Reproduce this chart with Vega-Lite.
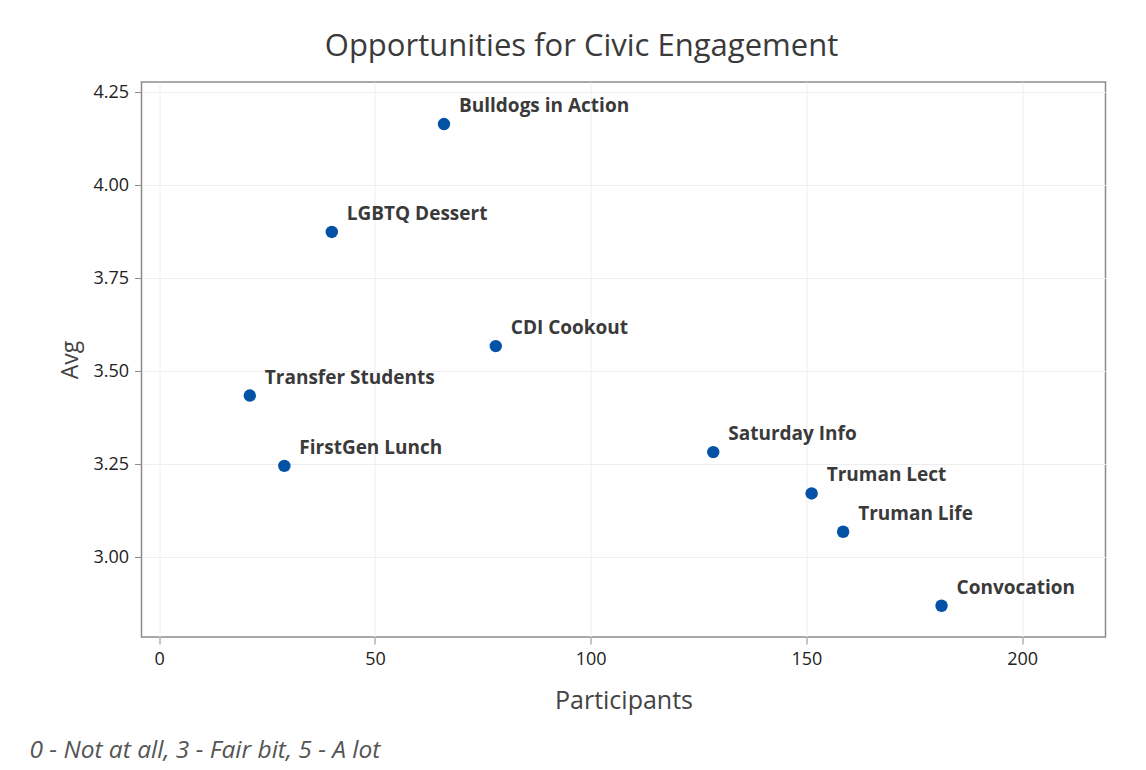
{
  "$schema": "https://vega.github.io/schema/vega-lite/v6.json",
  "autosize": {"type": "pad"},
  "padding": {"left": 28.5, "top": 31, "right": 5, "bottom": 5},
  "background": "white",
  "title": {
    "text": "Opportunities for Civic Engagement",
    "font": "Open Sans",
    "fontSize": 31,
    "fontWeight": "normal",
    "color": "#3a3a3a",
    "anchor": "middle",
    "offset": 18,
    "dx": 14
  },
  "config": {
    "view": {"stroke": "#8c8c8c", "strokeWidth": 1.5},
    "concat": {"spacing": 0},
    "axis": {
      "labelFont": "Open Sans",
      "labelFontSize": 18,
      "labelColor": "#222222",
      "titleFont": "Open Sans",
      "titleFontSize": 23,
      "titleFontWeight": "normal",
      "titleColor": "#444444",
      "gridColor": "#eeeeee",
      "gridWidth": 1,
      "domain": false,
      "tickColor": "#8c8c8c",
      "tickSize": 7,
      "labelPadding": 6
    }
  },
  "vconcat": [
    {
      "width": 964,
      "height": 555,
      "title": {
        "text": "0 - Not at all, 3 - Fair bit, 5 - A lot",
        "orient": "bottom",
        "anchor": "start",
        "frame": "group",
        "font": "Open Sans",
        "fontSize": 24.5,
        "fontStyle": "italic",
        "fontWeight": "normal",
        "color": "#555555",
        "dx": -112,
        "offset": 26
      },
      "data": {
        "values": [
          {"Event": "Bulldogs in Action", "Participants": 66, "Avg": 4.164},
          {"Event": "LGBTQ Dessert", "Participants": 40, "Avg": 3.874},
          {"Event": "CDI Cookout", "Participants": 78, "Avg": 3.567},
          {"Event": "Transfer Students", "Participants": 21, "Avg": 3.434},
          {"Event": "FirstGen Lunch", "Participants": 29, "Avg": 3.245},
          {"Event": "Saturday Info", "Participants": 128.4, "Avg": 3.282},
          {"Event": "Truman Lect", "Participants": 151.2, "Avg": 3.171},
          {"Event": "Truman Life", "Participants": 158.5, "Avg": 3.068},
          {"Event": "Convocation", "Participants": 181.3, "Avg": 2.869}
        ]
      },
      "encoding": {
        "x": {
          "field": "Participants",
          "type": "quantitative",
          "scale": {"domain": [-4.1, 219.3], "nice": false, "zero": false},
          "axis": {"values": [0, 50, 100, 150, 200], "title": "Participants", "titleFontSize": 25, "titlePadding": 20}
        },
        "y": {
          "field": "Avg",
          "type": "quantitative",
          "scale": {"domain": [2.785, 4.277], "nice": false, "zero": false},
          "axis": {"values": [3.0, 3.25, 3.5, 3.75, 4.0, 4.25], "format": ".2f", "title": "Avg", "titlePadding": 10}
        }
      },
      "layer": [
        {
          "mark": {"type": "point", "filled": true, "shape": "circle", "size": 155, "color": "#0352a5", "opacity": 1}
        },
        {
          "mark": {"type": "text", "align": "left", "baseline": "middle", "dx": 15, "dy": -18, "font": "Open Sans", "fontSize": 19, "fontWeight": "bold", "color": "#3a3a3a"},
          "encoding": {"text": {"field": "Event"}}
        }
      ]
    }
  ]
}
